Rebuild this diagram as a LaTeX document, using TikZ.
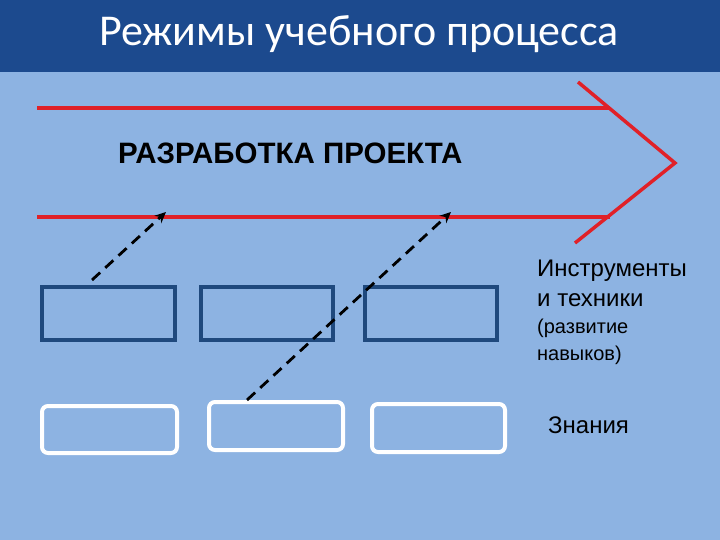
\documentclass[tikz,border=0pt]{standalone}
\usepackage{fontspec}
\setmainfont{Liberation Sans}
\newfontfamily\titlefont{Carlito}
\usetikzlibrary{arrows.meta}
\definecolor{bg}{HTML}{8DB3E2}
\definecolor{bar}{HTML}{1C4A8E}
\definecolor{redl}{HTML}{E02128}
\definecolor{boxb}{HTML}{1F497D}
\tikzset{redline/.style={draw=redl,line width=3.5pt},
 bluebox/.style={draw=boxb,line width=3.5pt},
 whitebox/.style={draw=white,line width=4pt,rounded corners=6pt},
 dasharr/.style={draw=black,line width=2.8pt,dash pattern=on 11pt off 7pt,-{Stealth[length=11pt,width=10pt]}},
 lbl/.style={anchor=west,inner sep=0pt,font=\fontsize{24}{26}\selectfont}}
\begin{document}
\begin{tikzpicture}[x=1pt,y=-1pt]
\useasboundingbox (0,0) rectangle (720,540);
\fill[bg] (0,0) rectangle (720,540);
\fill[bar] (0,0) rectangle (720,72);
\node[text=white,font=\titlefont\fontsize{44}{48}\selectfont] (title) at (359,34) {Режимы учебного процесса};
\coordinate (t1) at (37,108); \coordinate (t2) at (610,108);
\coordinate (b1) at (37,217); \coordinate (b2) at (610,217);
\coordinate (h1) at (578,82); \coordinate (h2) at (675,163); \coordinate (h3) at (575,243);
\draw[redline] (t1) -- (t2);
\draw[redline] (b1) -- (b2);
\draw[redline] (h1) -- (h2) -- (h3);
\node[lbl,font=\bfseries\fontsize{29.5}{32}\selectfont] (proj) at (118,153) {РАЗРАБОТКА ПРОЕКТА};
\draw[bluebox] (42,287) rectangle (175,340);
\draw[bluebox] (201,287) rectangle (333,340);
\draw[bluebox] (365,287) rectangle (497,340);
\draw[whitebox] (42,406) rectangle (177,453);
\draw[whitebox] (209,402) rectangle (343,450);
\draw[whitebox] (372,404) rectangle (505,452);
\coordinate (a1s) at (92,280); \coordinate (a1e) at (166,212);
\coordinate (a2s) at (247,400); \coordinate (a2e) at (451,212);
\draw[dasharr] (a1s) -- (a1e);
\draw[dasharr] (a2s) -- (a2e);
\node[lbl] (i1) at (537,271) {Инструменты};
\node[lbl] (i2) at (537,300) {и техники};
\node[lbl,font=\fontsize{20}{22}\selectfont] (r1) at (537,328) {(развитие};
\node[lbl,font=\fontsize{20}{22}\selectfont] (r2) at (537,355) {навыков)};
\node[lbl] (z) at (548,425) {Знания};
\end{tikzpicture}
\end{document}
